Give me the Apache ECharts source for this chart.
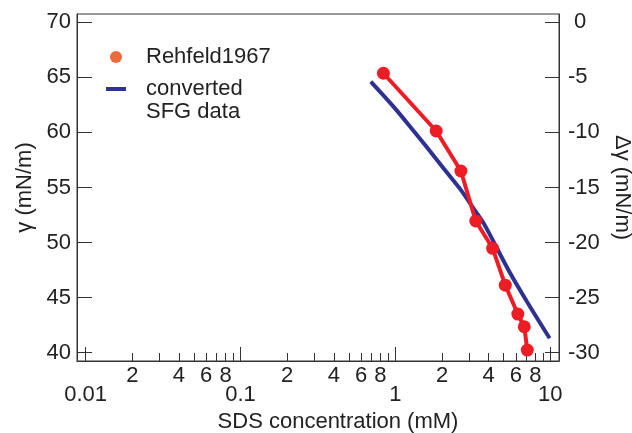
<!DOCTYPE html>
<html>
<head>
<meta charset="utf-8">
<script src="https://cdn.jsdelivr.net/npm/echarts@6/dist/echarts.min.js"></script>
<style>
  html, body { margin: 0; padding: 0; background: #fff; }
  #chart { width: 632px; height: 433px; }
</style>
</head>
<body>
<div id="chart"></div>
<script>
// Rehfeld 1967 surface tension (x: mM, y: mN/m)
const rehfeldConc = [0.836, 1.833, 2.647, 3.30, 4.24, 5.12, 6.17, 6.79, 7.10]
const rehfeldGamma = [65.37, 60.13, 56.50, 51.96, 49.48, 46.13, 43.51, 42.36, 40.24]

// converted SFG data
const sfgConc = [0.693, 0.971, 1.245, 1.596, 2.043, 2.62, 3.19, 3.71, 4.30, 5.51, 7.07, 9.90]
const sfgGamma = [64.61, 62.34, 60.52, 58.65, 56.74, 54.85, 53.11, 51.75, 50.08, 47.21, 44.63, 41.31]

// axis ticks
const decadeTicks = [0.01, 0.1, 1, 10]
const decadeLabels = ['0.01', '0.1', '1', '10']
const minorTicks = [0.02, 0.03, 0.04, 0.05, 0.06, 0.07, 0.08, 0.09,
  0.2, 0.3, 0.4, 0.5, 0.6, 0.7, 0.8, 0.9,
  2, 3, 4, 5, 6, 7, 8, 9]
const minorLabelTicks = [0.02, 0.04, 0.06, 0.08, 0.2, 0.4, 0.6, 0.8, 2, 4, 6, 8]
const gammaTicks = [40, 45, 50, 55, 60, 65, 70]
const deltaTicks = [-30, -25, -20, -15, -10, -5, 0]

const FONT = 'Liberation Sans'
const AXIS_COLOR = '#333'
const TEXT_COLOR = '#222'
const FS = 22

const lg = v => Math.log10(v)
const xMin = -2.056
const xMax = 1.056

const baseX = {
  type: 'value',
  min: xMin,
  max: xMax,
  position: 'bottom',
  splitLine: { show: false }
}

const chart = echarts.init(document.getElementById('chart'))
chart.setOption({
  animation: false,
  grid: {
    left: 77,
    right: 73,
    top: 14,
    bottom: 72,
    outerBoundsMode: 'none',
    show: true,
    borderColor: AXIS_COLOR,
    borderWidth: 1
  },
  legend: {
    orient: 'vertical',
    left: 101,
    top: 41,
    itemWidth: 20,
    itemHeight: 12,
    itemGap: 10,
    symbolKeepAspect: true,
    textStyle: { fontFamily: FONT, fontSize: FS, color: TEXT_COLOR, padding: [0, 0, 0, 15] },
    data: [
      { name: 'Rehfeld1967', icon: 'circle', itemStyle: { color: '#EE6A3C' } },
      { name: 'converted', icon: 'path://M0,0L20,0L20,4L0,4Z', itemStyle: { color: '#2E3192' } }
    ]
  },
  graphic: [{
    type: 'text',
    left: 146,
    top: 101,
    style: { text: 'SFG data', font: FS + 'px "' + FONT + '"', fill: TEXT_COLOR }
  }],
  xAxis: [
    Object.assign({}, baseX, {
      name: 'SDS concentration (mM)',
      nameLocation: 'middle',
      nameGap: 47,
      nameTextStyle: { fontFamily: FONT, fontSize: FS, color: TEXT_COLOR, padding: [0, 0, 0, 40] },
      axisLine: { show: true, onZero: false, lineStyle: { color: AXIS_COLOR, width: 1 } },
      axisTick: { show: true, inside: true, length: 14, customValues: decadeTicks.map(lg), lineStyle: { color: AXIS_COLOR } },
      axisLabel: {
        customValues: decadeTicks.map(lg),
        margin: 23,
        fontFamily: FONT,
        fontSize: FS,
        color: TEXT_COLOR,
        formatter: v => decadeLabels[decadeTicks.findIndex(d => Math.abs(lg(d) - v) < 1e-6)]
      }
    }),
    Object.assign({}, baseX, {
      axisLine: { show: false, onZero: false },
      axisTick: { show: true, inside: true, length: 8, customValues: minorTicks.map(lg), lineStyle: { color: AXIS_COLOR } },
      axisLabel: {
        customValues: minorLabelTicks.map(lg),
        margin: 4,
        fontFamily: FONT,
        fontSize: FS,
        color: TEXT_COLOR,
        formatter: v => String(Math.round(Math.pow(10, v - Math.floor(v + 1e-9))))
      }
    })
  ],
  yAxis: [
    {
      type: 'value',
      position: 'left',
      min: 39.25,
      max: 70.75,
      name: 'γ (mN/m)',
      nameLocation: 'middle',
      nameGap: 40,
      nameTextStyle: { fontFamily: FONT, fontSize: FS, color: TEXT_COLOR },
      splitLine: { show: false },
      axisLine: { show: true, onZero: false, lineStyle: { color: AXIS_COLOR, width: 1 } },
      axisTick: { show: true, inside: true, length: 15, customValues: gammaTicks, lineStyle: { color: AXIS_COLOR } },
      axisLabel: { customValues: gammaTicks, margin: 6, fontFamily: FONT, fontSize: FS, color: TEXT_COLOR }
    },
    {
      type: 'value',
      position: 'right',
      min: -30.75,
      max: 0.75,
      name: 'Δγ (mN/m)',
      nameLocation: 'middle',
      nameRotate: -90,
      nameGap: 52,
      nameTextStyle: { fontFamily: FONT, fontSize: FS, color: TEXT_COLOR },
      splitLine: { show: false },
      axisLine: { show: true, onZero: false, lineStyle: { color: AXIS_COLOR, width: 1 } },
      axisTick: { show: true, inside: true, length: 14, customValues: deltaTicks, lineStyle: { color: AXIS_COLOR } },
      axisLabel: {
        customValues: deltaTicks,
        margin: 9,
        fontFamily: FONT,
        fontSize: FS,
        color: TEXT_COLOR,
        formatter: v => (v === 0 ? ' 0' : String(v))
      }
    }
  ],
  series: [
    {
      name: 'converted',
      type: 'line',
      xAxisIndex: 0,
      yAxisIndex: 0,
      smooth: 0.3,
      symbol: 'none',
      lineStyle: { color: '#2E3192', width: 4 },
      itemStyle: { color: '#2E3192' },
      data: sfgConc.map((c, i) => [lg(c), sfgGamma[i]])
    },
    {
      name: 'Rehfeld1967',
      type: 'line',
      xAxisIndex: 0,
      yAxisIndex: 0,
      symbol: 'circle',
      symbolSize: 13,
      lineStyle: { color: '#EE1C25', width: 4 },
      itemStyle: { color: '#EE1C25' },
      data: rehfeldConc.map((c, i) => [lg(c), rehfeldGamma[i]])
    }
  ]
})
</script>
</body>
</html>
